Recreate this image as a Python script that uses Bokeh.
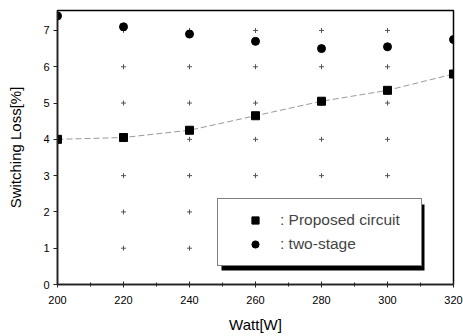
from bokeh.plotting import figure
from bokeh.models import Legend, LegendItem, BoxAnnotation, FixedTicker, Range1d
from bokeh.embed import file_html
from bokeh.resources import INLINE

watt = [200, 220, 240, 260, 280, 300, 320]
proposed = [4.0, 4.05, 4.25, 4.65, 5.05, 5.35, 5.8]
two_stage = [7.4, 7.1, 6.9, 6.7, 6.5, 6.55, 6.75]
x_ticks = [200, 220, 240, 260, 280, 300, 320]
y_ticks = [0, 1, 2, 3, 4, 5, 6, 7]

X0, X1, Y0, Y1 = 200, 320, 0, 7.55
FW, FH = 396, 274
FONT = "Liberation Sans"

p = figure(frame_width=FW, frame_height=FH,
           x_range=Range1d(X0, X1), y_range=Range1d(Y0, Y1),
           output_backend="svg", toolbar_location=None,
           min_border_left=57, min_border_right=10, min_border_top=10, min_border_bottom=52)
p.grid.visible = False
p.outline_line_color = "black"
p.outline_line_width = 1.5
p.background_fill_color = "white"

# grid crosses at tick intersections
gx = [x for x in x_ticks[1:-1] for y in y_ticks[1:]]
gy = [y for x in x_ticks[1:-1] for y in y_ticks[1:]]
p.scatter(gx, gy, marker="cross", size=5, line_color="#555555", line_width=1)

# faint connecting line of proposed series
p.line(watt, proposed, line_color="#999999", line_width=1, line_dash="6 3")

sq = p.scatter(watt, proposed, marker="square", size=8, fill_color="black", line_color="black")
ci = p.scatter(watt, two_stage, marker="circle", size=8, fill_color="black", line_color="black")

# axes
minor_x = [(a + b) / 2 for a, b in zip(x_ticks[:-1], x_ticks[1:])]
p.xaxis.ticker = FixedTicker(ticks=x_ticks, minor_ticks=minor_x)
p.yaxis.ticker = FixedTicker(ticks=y_ticks, minor_ticks=[])
for ax in (p.xaxis[0], p.yaxis[0]):
    ax.axis_line_color = "#222222"
    ax.axis_line_width = 1.5
    ax.major_tick_line_color = "#222222"
    ax.minor_tick_line_color = "#222222"
    ax.major_label_text_font = FONT
    ax.major_label_text_font_size = "11px"
    ax.major_label_text_color = "black"
    ax.axis_label_text_font = FONT
    ax.axis_label_text_font_size = "15px"
    ax.axis_label_text_font_style = "normal"
    ax.axis_label_text_color = "black"
p.xaxis.axis_label = "Watt[W]"
p.yaxis.axis_label = "Switching Loss[%]"
p.xaxis.major_tick_out = 3
p.xaxis.major_tick_in = 3
p.xaxis.minor_tick_out = 2
p.xaxis.minor_tick_in = 2
p.xaxis.major_label_standoff = 8
p.xaxis.axis_label_standoff = 9
p.yaxis.major_tick_out = 4
p.yaxis.major_tick_in = 0
p.yaxis.major_label_standoff = 4
p.yaxis.axis_label_standoff = 16

# legend with drop shadow
LX, LY, LW, LH = 160, 18, 203, 66
PAD, GW = 12, 50
sx = (X1 - X0) / FW
sy = (Y1 - Y0) / FH
shadow = BoxAnnotation(left=X0 + (LX + 4) * sx, right=X0 + (LX + LW + 4) * sx,
                       bottom=Y0 + (LY - 4) * sy, top=Y0 + (LY + LH - 4) * sy,
                       fill_color="black", fill_alpha=1, line_color=None)
p.add_layout(shadow)

legend = Legend(items=[LegendItem(label=": Proposed circuit", renderers=[sq]),
                       LegendItem(label=": two-stage", renderers=[ci])],
                location=(LX, LY), padding=PAD, glyph_width=GW, glyph_height=18,
                label_height=18, label_width=LW - 2 * PAD - GW, spacing=6, label_standoff=0,
                border_line_color="black", border_line_width=1,
                background_fill_color="white", background_fill_alpha=1,
                label_text_font=FONT, label_text_font_size="15.5px")
p.add_layout(legend, "center")

open("out.html", "w").write(file_html(p, INLINE))
